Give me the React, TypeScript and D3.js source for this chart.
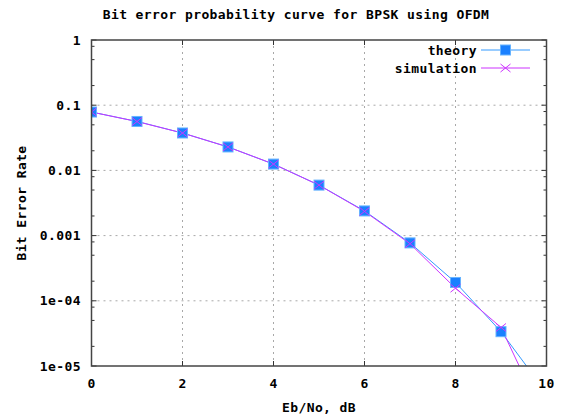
import React from 'react';
import * as d3 from 'd3';

// Eb/No in dB
const ebno = [0, 1, 2, 3, 4, 5, 6, 7, 8, 9, 10];
// bit error rate
const theory = [0.0786, 0.0563, 0.0375, 0.0229, 0.0125, 0.00595, 0.00239, 0.000773, 0.000191, 3.36e-5, 3.87e-6];
const simulation = [0.0786, 0.0562, 0.0374, 0.0229, 0.0125, 0.00594, 0.00235, 0.00075, 0.000156, 3.9e-5, 1.3e-6];

const xTicks = [0, 2, 4, 6, 8, 10];
const yTicks = [1, 0.1, 0.01, 0.001, 1e-4, 1e-5];
const yTickLabels = ['1', '0.1', '0.01', '0.001', '1e-04', '1e-05'];

const W = 562, H = 415;
const L = 91.5, R = 546.5, T = 40, B = 366;
const font = "'DejaVu Sans Mono', monospace";

const App = () => {
  const x = d3.scaleLinear().domain([0, 10]).range([L, R]);
  const y = d3.scaleLog().domain([1e-5, 1]).range([B, T]);

  // minor ticks at 2, 5, 8 of each decade
  const minor: number[] = [];
  for (let e = -5; e < 0; e++) [2, 5, 8].forEach(m => minor.push(m * Math.pow(10, e)));

  const line = d3.line<number>().x((d, i) => x(ebno[i])).y(d => y(d));
  const theoryColor = '#3399ff';
  const simColor = '#cc33ff';

  const txt = { fontFamily: font, fontWeight: 'bold' as const, fontSize: 13, letterSpacing: 0.4, fill: '#000' };

  const square = (cx: number, cy: number, k: string | number) => (
    <rect key={k} x={cx - 5} y={cy - 5} width={10} height={10} fill="#1a80ff" stroke="#66b3ff" strokeWidth={1} />
  );
  const cross = (cx: number, cy: number, k: string | number) => (
    <path key={k} d={`M${cx - 5},${cy - 4}L${cx + 5},${cy + 4}M${cx - 5},${cy + 4}L${cx + 5},${cy - 4}`} stroke={simColor} strokeWidth={1} fill="none" />
  );

  return (
    <svg width={W} height={H} style={{ position: 'absolute', left: 0, top: 0, background: '#fff' }}>
      <defs>
        <clipPath id="plot">
          <rect x={L} y={T} width={R - L} height={B - T} />
        </clipPath>
      </defs>

      {/* grid */}
      {xTicks.slice(1, -1).map(t => (
        <line key={'gx' + t} x1={x(t)} x2={x(t)} y1={T} y2={B} stroke="#a8a8a8" strokeDasharray="2,4" />
      ))}
      {yTicks.slice(1, -1).map(t => (
        <line key={'gy' + t} x1={L} x2={R} y1={y(t)} y2={y(t)} stroke="#a8a8a8" strokeDasharray="2,4" />
      ))}

      {/* ticks */}
      {xTicks.map(t => (
        <g key={'tx' + t} stroke="#333">
          <line x1={x(t)} x2={x(t)} y1={B} y2={B - 5} />
          <line x1={x(t)} x2={x(t)} y1={T} y2={T + 5} />
        </g>
      ))}
      {yTicks.map(t => (
        <g key={'ty' + t} stroke="#333">
          <line x1={L} x2={L + 5} y1={y(t)} y2={y(t)} />
          <line x1={R} x2={R - 5} y1={y(t)} y2={y(t)} />
        </g>
      ))}
      {minor.map(t => (
        <g key={'my' + t} stroke="#333">
          <line x1={L} x2={L + 3} y1={y(t)} y2={y(t)} />
          <line x1={R} x2={R - 3} y1={y(t)} y2={y(t)} />
        </g>
      ))}

      {/* series */}
      <g clipPath="url(#plot)">
        <path d={line(theory) || ''} fill="none" stroke={theoryColor} strokeWidth={1} />
        <path d={line(simulation) || ''} fill="none" stroke={simColor} strokeWidth={1} />
        {theory.map((d, i) => square(x(ebno[i]), y(d), 'sq' + i))}
        {simulation.map((d, i) => cross(x(ebno[i]), y(d), 'cr' + i))}
      </g>

      {/* frame */}
      <rect x={L} y={T} width={R - L} height={B - T} fill="none" stroke="#444" strokeWidth={1.5} />

      {/* tick labels */}
      {xTicks.map(t => (
        <text key={'lx' + t} x={x(t)} y={388} textAnchor="middle" {...txt}>{t}</text>
      ))}
      {yTicks.map((t, i) => (
        <text key={'ly' + t} x={81} y={y(t) + 4.5} textAnchor="end" {...txt}>{yTickLabels[i]}</text>
      ))}

      {/* titles */}
      <text x={296} y={19} textAnchor="middle" {...txt}>Bit error probability curve for BPSK using OFDM</text>
      <text x={319} y={412} textAnchor="middle" {...txt}>Eb/No, dB</text>
      <text transform={`translate(26,${(T + B) / 2}) rotate(-90)`} textAnchor="middle" {...txt}>Bit Error Rate</text>

      {/* legend */}
      <text x={477} y={54.5} textAnchor="end" {...txt}>theory</text>
      <line x1={481} x2={530} y1={50} y2={50} stroke={theoryColor} />
      {square(505.5, 50, 'lsq')}
      <text x={477} y={72.5} textAnchor="end" {...txt}>simulation</text>
      <line x1={481} x2={530} y1={68} y2={68} stroke={simColor} />
      {cross(505.5, 68, 'lcr')}
    </svg>
  );
};

export default App;
